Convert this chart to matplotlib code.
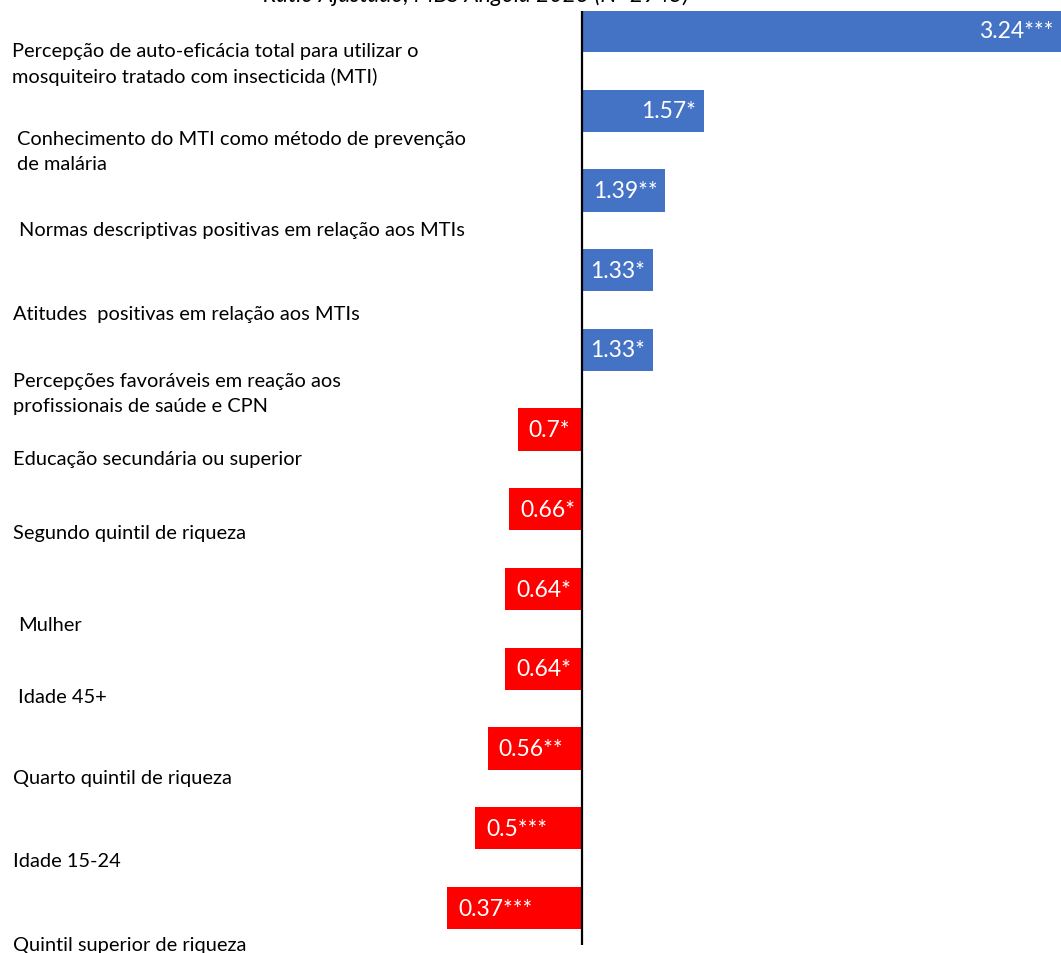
import matplotlib.pyplot as plt
from matplotlib import transforms

# adjusted odds ratios, top to bottom
labels = [
    'Percepção de auto-eficácia total para utilizar o\nmosquiteiro tratado com insecticida (MTI)',
    'Conhecimento do MTI como método de prevenção\nde malária',
    'Normas descriptivas positivas em relação aos MTIs',
    'Atitudes  positivas em relação aos MTIs',
    'Percepções favoráveis em reação aos\nprofissionais de saúde e CPN',
    'Educação secundária ou superior',
    'Segundo quintil de riqueza',
    'Mulher',
    'Idade 45+',
    'Quarto quintil de riqueza',
    'Idade 15-24',
    'Quintil superior de riqueza',
]
odds_ratios = [3.24, 1.57, 1.39, 1.33, 1.33, 0.7, 0.66, 0.64, 0.64, 0.56, 0.5, 0.37]
stars = ['***', '*', '**', '*', '*', '*', '*', '*', '*', '**', '***', '***']

title = 'Ratio Ajustado, MBS Angola 2023 (N=2945)'

# label placement (pixels): left indent and shift below bar centre
label_x_px = [12, 17, 19, 13, 13, 13, 13, 18, 18, 13, 13, 13]
label_dy = [0.41, 0.51, 0.49, 0.54, 0.54, 0.36, 0.29, 0.45, 0.35, 0.36, 0.41, 0.46]

W, H, DPI = 1061, 954, 100
plt.rcParams['font.family'] = ['Lato', 'DejaVu Sans']

fig = plt.figure(figsize=(W / DPI, H / DPI), dpi=DPI)
ax = fig.add_axes([0, 8 / H, 1, 934 / H])

blue = '#4472C4'
red = '#FF0000'
n = len(odds_ratios)
ypos = list(range(n))
colors = [blue if v >= 1 else red for v in odds_ratios]
widths = [v - 1 for v in odds_ratios]
ax.barh(ypos, widths, left=1, height=0.53, color=colors)

ax.set_xlim(1 - 582 / 214, 1 + 479 / 214)
ax.set_ylim(n - 1 + 0.464, -0.25)

for s in ['top', 'right', 'bottom', 'left']:
    ax.spines[s].set_visible(False)
ax.set_xticks([])
ax.set_yticks([])
ax.axvline(1, color='black', lw=1.6)

# value labels inside the bars
for i, (v, st) in enumerate(zip(odds_ratios, stars)):
    txt = f'{v:g}{st}'
    if v >= 1:
        off = transforms.offset_copy(ax.transData, fig=fig, x=-8, y=0, units='dots')
        ax.text(v, i, txt, transform=off, ha='right', va='center',
                color='white', fontsize=16.5)
    else:
        off = transforms.offset_copy(ax.transData, fig=fig, x=11, y=0, units='dots')
        ax.text(v, i, txt, transform=off, ha='left', va='center',
                color='white', fontsize=16.5)

# category labels sit in the gaps below each bar
for i, lab in enumerate(labels):
    tr = transforms.blended_transform_factory(fig.transFigure, ax.transData)
    ax.text(label_x_px[i] / W, i + label_dy[i], lab, transform=tr,
            ha='left', va='center', fontsize=14.4, linespacing=1.55)

fig.text(476 / W, 1 - 2 / H, title, ha='center', va='baseline',
         fontsize=16.5, style='italic')

fig.savefig('out.png', dpi=DPI)
